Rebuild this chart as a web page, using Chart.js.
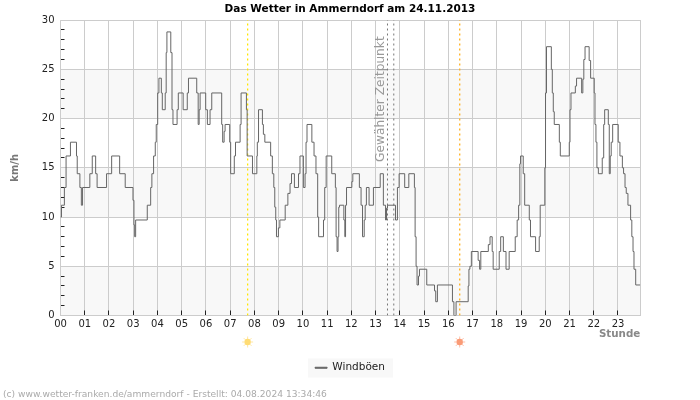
<!DOCTYPE html>
<html>
<head>
<meta charset="utf-8">
<title>Das Wetter in Ammerndorf</title>
<script src="https://cdn.jsdelivr.net/npm/chart.js@4"></script>
<style>
html, body { margin: 0; padding: 0; background: #fff; }
#wrap { width: 700px; height: 400px; }
</style>
</head>
<body>
<div id="wrap"><canvas id="chart" width="700" height="400"></canvas></div>
<script>
// hour at which the gust reading changes, and the reading from there on
var gustHours = [
   0.00, 0.04, 0.16, 0.23, 0.41, 0.66, 0.69, 0.80, 0.86, 0.91, 1.21, 1.31, 1.45, 1.51, 1.90, 2.11, 2.44, 2.67, 2.99, 3.03,
   3.06, 3.10, 3.58, 3.72, 3.77, 3.84, 3.91, 3.95, 4.01, 4.06, 4.16, 4.20, 4.32, 4.36, 4.39, 4.55, 4.60, 4.64, 4.81, 4.86,
   5.06, 5.23, 5.28, 5.62, 5.68, 5.72, 5.76, 5.99, 6.06, 6.17, 6.24, 6.65, 6.69, 6.75, 6.79, 6.98, 7.02, 7.17, 7.22, 7.41,
   7.45, 7.67, 7.70, 7.92, 8.10, 8.12, 8.17, 8.33, 8.37, 8.43, 8.67, 8.74, 8.80, 8.84, 8.88, 8.91, 8.99, 9.05, 9.27, 9.38,
   9.47, 9.53, 9.65, 9.82, 9.88, 10.02, 10.09, 10.13, 10.17, 10.37, 10.46, 10.54, 10.61, 10.65, 10.85, 10.90, 10.96, 11.19, 11.34, 11.37,
   11.41, 11.45, 11.48, 11.51, 11.69, 11.73, 11.76, 11.80, 12.02, 12.06, 12.33, 12.40, 12.46, 12.53, 12.57, 12.62, 12.73, 12.91, 13.19, 13.32,
   13.35, 13.41, 13.45, 13.49, 13.82, 13.90, 13.97, 14.20, 14.37, 14.60, 14.63, 14.67, 14.71, 14.77, 14.81, 15.11, 15.43, 15.48, 15.55, 16.17,
   16.23, 16.32, 16.82, 16.85, 16.89, 16.95, 17.23, 17.29, 17.34, 17.65, 17.72, 17.81, 17.85, 18.10, 18.16, 18.27, 18.38, 18.51, 18.76, 18.84,
   18.90, 18.95, 18.98, 19.09, 19.15, 19.34, 19.39, 19.60, 19.75, 19.79, 19.98, 20.01, 20.05, 20.25, 20.29, 20.33, 20.37, 20.58, 20.62, 20.99,
   21.02, 21.06, 21.24, 21.29, 21.50, 21.55, 21.59, 21.64, 21.81, 21.87, 22.02, 22.05, 22.09, 22.13, 22.19, 22.35, 22.41, 22.45, 22.60, 22.64,
   22.68, 22.72, 22.78, 23.01, 23.08, 23.18, 23.23, 23.29, 23.34, 23.41, 23.52, 23.57, 23.62, 23.66, 23.73, 23.92
];
var gustValues = [
   10, 11.2, 13, 16.2, 17.6, 16.2, 14.4, 13, 11.2, 13, 14.4, 16.2, 14.4, 13, 14.4, 16.2, 14.4, 13, 11.7, 9.2,
   8, 9.7, 11.2, 13, 14.4, 16.2, 17.6, 19.4, 22.6, 24.1, 22.6, 20.9, 22.6, 26.7, 28.8, 26.7, 20.9, 19.4, 20.9, 22.6,
   20.9, 22.6, 24.1, 22.6, 19.4, 20.9, 22.6, 20.9, 19.4, 20.9, 22.6, 19.4, 17.6, 18.7, 19.4, 17.6, 14.4, 16.2, 17.6, 19.4,
   22.6, 20.9, 16.2, 14.4, 16.2, 17.6, 20.9, 19.4, 18.4, 17.6, 16.2, 14.4, 13, 11, 9.7, 8, 8.9, 9.7, 11.2, 12.4,
   13.4, 14.4, 13, 14.4, 16.2, 13, 14.4, 17.6, 19.4, 17.6, 16.2, 14.4, 10, 8, 9.7, 13, 16.2, 14.4, 13, 8,
   6.5, 8, 11, 11.2, 9.7, 8, 11.2, 13, 13.6, 14.4, 13, 11.2, 8, 9.7, 11.2, 13, 11.2, 13, 14.4, 11.2,
   11.2, 9.7, 10.9, 11.2, 9.7, 13, 14.4, 13, 14.4, 13, 8, 5, 3.1, 4, 4.7, 3.1, 2.5, 1.4, 3.1, 1.4,
   0, 1.4, 3, 4.7, 5, 6.5, 5.6, 4.7, 6.5, 7.2, 8, 6.5, 4.7, 6.5, 8, 6.5, 4.7, 6.5, 8, 9.7,
   11.2, 15.4, 16.2, 14.4, 11.2, 9.7, 8, 6.5, 8, 11.2, 15, 22.6, 27.3, 25, 22.6, 20.7, 19.4, 17.6, 16.2, 17.6,
   20.9, 22.6, 23.3, 24.1, 22.6, 24, 26, 27.3, 25.9, 24.1, 22.6, 19.4, 17.6, 15, 14.4, 16, 19.4, 20.9, 19.4, 14.4,
   16.2, 17.6, 19.4, 17.6, 16.2, 15, 14.4, 13, 12.4, 11.2, 9.7, 8, 6.5, 4.7, 3.1, 3.1
];

var hourTicks = ['00', '01', '02', '03', '04', '05', '06', '07', '08', '09', '10', '11', '12', '13', '14', '15', '16', '17', '18', '19', '20', '21', '22', '23'];
var shadedBands = [[0, 5], [10, 15], [20, 25]];
var sunriseHour = 7.72;
var sunsetHour = 16.47;
var selectedHours = [13.49, 13.75];
var lastHour = 23.92;
var maxSpeed = 30;

var fontName = '"DejaVu Sans"';

function vLine(hour, color, dash, width) {
   return {
      label: 'marker',
      data: [{ x: hour, y: 0 }, { x: hour, y: maxSpeed }],
      borderColor: color,
      borderWidth: width,
      borderDash: dash,
      pointRadius: 0
   };
}

function drawSun(ctx, x, y, color) {
   ctx.save();
   ctx.strokeStyle = color;
   ctx.fillStyle = color;
   ctx.globalAlpha = 0.55;
   ctx.lineWidth = 1;
   for (var i = 0; i < 8; i++) {
      var a = i * Math.PI / 4;
      ctx.beginPath();
      ctx.moveTo(x + Math.cos(a) * 3, y + Math.sin(a) * 3);
      ctx.lineTo(x + Math.cos(a) * 5.5, y + Math.sin(a) * 5.5);
      ctx.stroke();
   }
   ctx.globalAlpha = 0.85;
   ctx.beginPath();
   ctx.arc(x, y, 3.2, 0, Math.PI * 2);
   ctx.fill();
   ctx.restore();
}

// shaded bands go under the grid, legend box too
var bandPlugin = {
   id: 'bands',
   beforeDraw: function (chart) {
      var ctx = chart.ctx;
      var area = chart.chartArea;
      var y = chart.scales.y;
      ctx.save();
      ctx.fillStyle = '#f8f8f8';
      shadedBands.forEach(function (b) {
         var top = y.getPixelForValue(b[1]);
         ctx.fillRect(area.left, top, area.right - area.left, y.getPixelForValue(b[0]) - top);
      });
      ctx.fillRect(308, chart.legend.top, 85, 19);
      ctx.restore();
   }
};

var notesPlugin = {
   id: 'notes',
   afterDraw: function (chart) {
      var ctx = chart.ctx;
      var x = chart.scales.x;
      ctx.save();
      // text along the selected time
      ctx.translate(x.getPixelForValue(13.2), 162);
      ctx.rotate(-Math.PI / 2);
      ctx.font = '12.2px ' + fontName;
      ctx.fillStyle = '#999';
      ctx.textBaseline = 'middle';
      ctx.fillText('Gewählter Zeitpunkt', 0, 0);
      ctx.restore();

      drawSun(ctx, x.getPixelForValue(sunriseHour), 342, '#ffd65c');
      drawSun(ctx, x.getPixelForValue(sunsetHour), 342, '#f98a5e');

      ctx.save();
      ctx.font = '9.15px ' + fontName;
      ctx.fillStyle = '#aaa';
      ctx.textBaseline = 'alphabetic';
      ctx.fillText('(c) www.wetter-franken.de/ammerndorf - Erstellt: 04.08.2024 13:34:46', 3, 397);
      ctx.restore();
   }
};

var mychart = document.getElementById('chart').getContext('2d');

var newChart = new Chart(mychart, {
   type: 'line',
   data: {
      datasets: [{
         label: 'Windböen',
         data: gustHours.map(function (h, i) { return { x: h, y: gustValues[i] }; }),
         borderColor: '#666',
         backgroundColor: '#666',
         borderWidth: 1,
         stepped: true,
         pointRadius: 0
      },
      vLine(sunriseHour, '#ffe600', [2, 3], 1.3),
      vLine(sunsetHour, '#ffb020', [2, 3], 1.3),
      vLine(selectedHours[0], '#777', [2, 3], 1),
      vLine(selectedHours[1], '#777', [2, 3], 1)]
   },
   plugins: [bandPlugin, notesPlugin],
   options: {
      responsive: false,
      animation: false,
      layout: { padding: { left: 0, right: 0, top: 0, bottom: 17 } },
      plugins: {
         title: {
            display: true,
            text: 'Das Wetter in Ammerndorf am 24.11.2013',
            color: '#000',
            font: { family: fontName, size: 10.5, weight: 'bold' },
            padding: { top: 3, bottom: 4.5 }
         },
         legend: {
            position: 'bottom',
            labels: {
               color: '#222',
               font: { family: fontName, size: 10.5 },
               boxWidth: 12,
               boxHeight: 1,
               padding: 4,
               filter: function (item) { return item.text !== 'marker'; }
            }
         },
         tooltip: { enabled: false }
      },
      scales: {
         x: {
            type: 'linear',
            min: 0,
            max: lastHour,
            afterFit: function (scale) { scale.height = 43; },
            border: { display: false },
            grid: {
               color: '#ccc',
               tickColor: function (c) { return c.tick.value === 0 ? 'transparent' : '#222'; },
               tickLength: -5
            },
            ticks: {
               stepSize: 1,
               includeBounds: false,
               autoSkip: false,
               maxRotation: 0,
               padding: 8,
               color: '#222',
               font: { family: fontName, size: 10 },
               callback: function (value) { return hourTicks[value]; }
            },
            title: {
               display: true,
               text: 'Stunde',
               align: 'end',
               color: '#888',
               font: { family: fontName, size: 10.3, weight: 'bold' },
               padding: { top: 0, bottom: 18 }
            }
         },
         y: {
            min: 0,
            max: maxSpeed,
            afterFit: function (scale) { scale.width = 60.5; },
            border: { display: false },
            grid: {
               color: function (c) { return c.tick.value % 5 === 0 ? '#ccc' : 'transparent'; },
               tickColor: function (c) { return c.tick.value % 5 === 0 ? 'transparent' : '#222'; },
               tickLength: -4
            },
            ticks: {
               stepSize: 1,
               autoSkip: false,
               padding: 10,
               color: '#222',
               font: { family: fontName, size: 10 },
               callback: function (value) { return value % 5 === 0 ? value : ''; }
            },
            title: {
               display: true,
               text: 'km/h',
               color: '#777',
               font: { family: fontName, size: 10, weight: 'bold' },
               padding: { top: 9, bottom: 0 }
            }
         },
         // only keeps the right margin and draws the closing line of the plot
         rightGap: {
            position: 'right',
            afterFit: function (scale) { scale.width = 59.7; },
            border: { display: true, color: '#ccc' },
            grid: { display: false },
            ticks: { display: false }
         }
      }
   }
});
</script>
</body>
</html>
